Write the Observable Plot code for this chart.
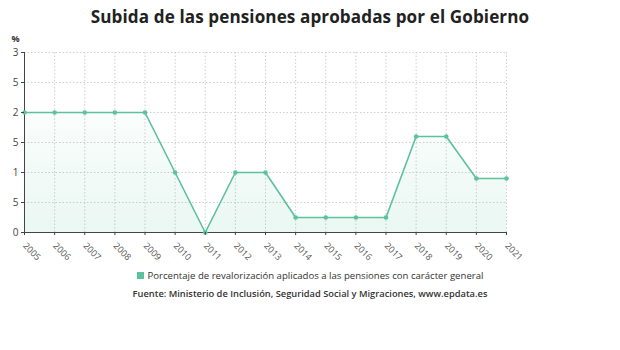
<!DOCTYPE html>
<html>
<head>
<meta charset="utf-8">
<script src="https://cdn.jsdelivr.net/npm/d3@7"></script>
<script src="https://cdn.jsdelivr.net/npm/@observablehq/plot@0.6"></script>
<style>
  body { margin: 0; background: #fff; font-family: "Open Sans", sans-serif; }
  #wrap { width: 620px; height: 350px; position: relative; overflow: hidden; }
  #title { height: 30px; line-height: 34px; text-align: center; font-weight: 700; font-size: 17.1px; color: #222; letter-spacing: 0.1px; }
  #chart svg { display: block; }
  #legend { text-align: center; font-size: 9.6px; color: #333; margin-top: 2px; height: 18px; line-height: 18px; }
  #legend .sw { display: inline-block; width: 7px; height: 7px; background: #5cc29b; margin-right: 4px; vertical-align: 0px; }
  #source { text-align: center; font-size: 9.3px; color: #333; font-weight: 600; height: 18px; line-height: 18px; }
</style>
</head>
<body>
<div id="wrap">
  <div id="title">Subida de las pensiones aprobadas por el Gobierno</div>
  <div id="chart"></div>
  <div id="legend"><span class="sw"></span>Porcentaje de revalorización aplicados a las pensiones con carácter general</div>
  <div id="source">Fuente: Ministerio de Inclusión, Seguridad Social y Migraciones, www.epdata.es</div>
</div>
<script>
// Annual pension increase (%), general revaluation
const years = [2005, 2006, 2007, 2008, 2009, 2010, 2011, 2012, 2013, 2014, 2015, 2016, 2017, 2018, 2019, 2020, 2021];
const rates = [2, 2, 2, 2, 2, 1, 0, 1, 1, 0.25, 0.25, 0.25, 0.25, 1.6, 1.6, 0.9, 0.9];
const yTicks = [0, 0.5, 1, 1.5, 2, 2.5, 3];

const data = years.map((year, i) => ({year, rate: rates[i]}));
const lineColor = "#5cc29b";
const fmt = d => String(d).replace(".", ",");
const tickSize = 3, tickPadding = 3;

const chart = Plot.plot({
  width: 620,
  height: 235,
  marginLeft: 24,
  marginRight: 114,
  marginTop: 22,
  marginBottom: 33,
  style: {fontFamily: "Open Sans, sans-serif", fontSize: "9.5px", color: "#555", background: "transparent"},
  x: {type: "linear", domain: [2005, 2021]},
  y: {domain: [0, 3]},
  marks: [
    Plot.gridX(years, {stroke: "#cfcfcf", strokeOpacity: 1, strokeDasharray: "1.5,2"}),
    Plot.gridY(yTicks, {stroke: "#cfcfcf", strokeOpacity: 1, strokeDasharray: "1.5,2"}),
    Plot.areaY(data, {x: "year", y: "rate", fill: "url(#areaFill)"}),
    Plot.ruleY([0], {stroke: "#444", strokeWidth: 1}),
    Plot.ruleX([2005], {stroke: "#444", strokeWidth: 1}),
    Plot.lineY(data, {x: "year", y: "rate", stroke: lineColor, strokeWidth: 1.6}),
    Plot.dot(data, {x: "year", y: "rate", r: 2.3, fill: lineColor}),
    Plot.axisY(yTicks, {tickSize, tickPadding, stroke: "#444", tickFormat: fmt, fontSize: "10px", fill: "#444", label: null}),
    Plot.axisX(years, {tickSize: 3, tickRotate: 45, stroke: "#444", tickFormat: d => String(d), fill: "#555", fontSize: "9px", label: null}),
    Plot.text(["%"], {frameAnchor: "top-left", dx: -9, dy: -17, fontSize: "9px", fontWeight: 700, fill: "#333", textAnchor: "middle"})
  ]
});

const svg = d3.select(chart);
const defs = svg.insert("defs", ":first-child");

// Soft teal gradient under the line
const grad = defs.append("linearGradient").attr("id", "areaFill").attr("x1", 0).attr("y1", 0).attr("x2", 0).attr("y2", 1);
grad.append("stop").attr("offset", "0%").attr("stop-color", "#5cc29b").attr("stop-opacity", 0.03);
grad.append("stop").attr("offset", "100%").attr("stop-color", "#5cc29b").attr("stop-opacity", 0.13);

// The narrow left gutter cuts the y tick labels off at x = 12
// (the label group is shifted left by tickSize + tickPadding)
const shift = tickSize + tickPadding;
defs.append("clipPath").attr("id", "gutter")
  .append("rect").attr("x", 12 + shift).attr("y", -50).attr("width", 620).attr("height", 335);
svg.selectAll("g[aria-label='y-axis tick label']").attr("clip-path", "url(#gutter)");

document.getElementById("chart").appendChild(chart);
</script>
</body>
</html>
